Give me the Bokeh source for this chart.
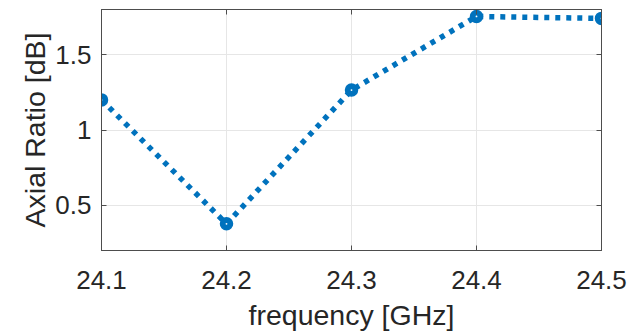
from bokeh.plotting import figure
from bokeh.models import LinearAxis, FixedTicker, Range1d
from bokeh.embed import file_html
from bokeh.resources import INLINE

freq = [24.1, 24.2, 24.3, 24.4, 24.5]
axial_ratio = [1.2, 0.377, 1.265, 1.754, 1.741]
x_ticks = [24.1, 24.2, 24.3, 24.4, 24.5]
y_ticks = [0.5, 1.0, 1.5]

BLUE = "#0072BD"
TXT = "#262626"
FONT = "Liberation Sans"
AXC = "#4d4d4d"

p = figure(width=639, height=333, output_backend="svg", toolbar_location=None,
           x_range=Range1d(24.1, 24.5), y_range=Range1d(0.2, 1.8),
           x_axis_location=None, y_axis_location=None,
           min_border_left=101, min_border_right=38, min_border_top=9, min_border_bottom=82)
p.background_fill_color = "white"
p.border_fill_color = "white"
p.outline_line_color = AXC
p.outline_line_width = 1

xa = LinearAxis(ticker=FixedTicker(ticks=x_ticks), axis_label="frequency [GHz]")
ya = LinearAxis(ticker=FixedTicker(ticks=y_ticks), axis_label="Axial Ratio [dB]")
for ax in (xa, ya):
    ax.axis_line_color = AXC
    ax.major_tick_in = 5
    ax.major_tick_out = 0
    ax.major_tick_line_color = AXC
    ax.minor_tick_line_color = None
    ax.major_label_text_font = FONT
    ax.major_label_text_font_size = "26px"
    ax.major_label_text_color = TXT
    ax.axis_label_text_font = FONT
    ax.axis_label_text_font_size = "28.5px"
    ax.axis_label_text_font_style = "normal"
    ax.axis_label_text_color = TXT
xa.major_label_standoff = 20
xa.axis_label_standoff = 7
ya.major_label_standoff = 10
ya.axis_label_standoff = 1
p.add_layout(xa, "below")
p.add_layout(ya, "left")

xt = LinearAxis(ticker=FixedTicker(ticks=x_ticks),
                major_label_overrides={t: "" for t in x_ticks})
yr = LinearAxis(ticker=FixedTicker(ticks=y_ticks),
                major_label_overrides={t: "" for t in y_ticks})
for ax in (xt, yr):
    ax.axis_line_color = AXC
    ax.major_tick_in = 5
    ax.major_tick_out = 0
    ax.major_tick_line_color = AXC
    ax.minor_tick_line_color = None
    ax.major_label_standoff = 0
    ax.major_label_text_font_size = "1px"
p.add_layout(xt, "above")
p.add_layout(yr, "right")

p.xgrid.ticker = FixedTicker(ticks=x_ticks)
p.ygrid.ticker = FixedTicker(ticks=y_ticks)
p.xgrid.grid_line_color = "#e6e6e6"
p.ygrid.grid_line_color = "#e6e6e6"

p.line(freq, axial_ratio, line_color=BLUE, line_width=5.5, line_dash="5 6", line_cap="butt")
p.scatter(freq, axial_ratio, size=12, fill_color=BLUE, line_color=BLUE, line_width=1.5)
p.scatter(freq, axial_ratio, size=1.8, fill_color="white", line_color=None)

open("out.html", "w").write(file_html(p, INLINE))
